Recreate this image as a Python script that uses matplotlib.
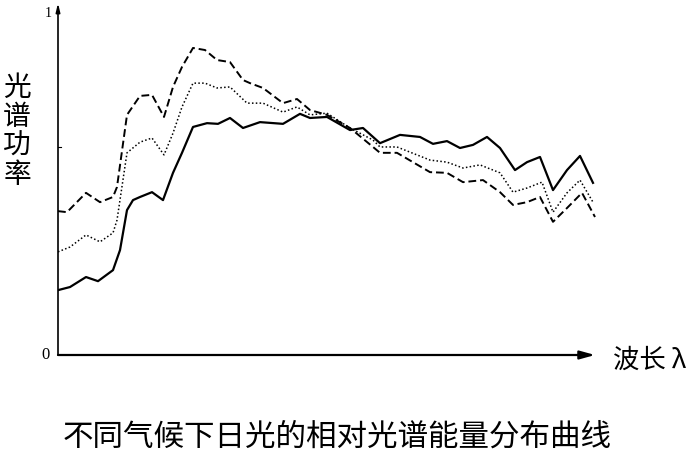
import matplotlib.pyplot as plt

plt.rcParams['font.family'] = ['Noto Sans CJK SC', 'DejaVu Sans']

# relative wavelength (arbitrary units) and relative spectral power
wl_dash = [0, 9, 28, 42, 55, 59, 69, 82, 94, 106, 115, 124, 135, 147, 159, 172,
           185, 192, 205, 225, 239, 252, 269, 292, 315, 322, 339, 372, 389, 405,
           425, 442, 455, 469, 482, 495, 509, 524, 537]
p_dash = [0.417, 0.414, 0.470, 0.443, 0.458, 0.487, 0.696, 0.751, 0.754, 0.690,
          0.777, 0.835, 0.890, 0.884, 0.855, 0.849, 0.797, 0.788, 0.774, 0.730,
          0.742, 0.710, 0.696, 0.658, 0.603, 0.586, 0.586, 0.530, 0.528, 0.501,
          0.507, 0.472, 0.435, 0.443, 0.458, 0.386, 0.426, 0.470, 0.400]

wl_dot = [0, 12, 28, 42, 55, 59, 69, 82, 94, 106, 115, 124, 135, 147, 159, 172,
          189, 205, 225, 239, 252, 269, 292, 315, 322, 339, 372, 389, 405, 422,
          442, 455, 469, 484, 495, 509, 522, 535]
p_dot = [0.299, 0.313, 0.348, 0.328, 0.354, 0.391, 0.586, 0.617, 0.629, 0.580,
         0.643, 0.719, 0.788, 0.788, 0.774, 0.777, 0.730, 0.730, 0.704, 0.719,
         0.696, 0.701, 0.658, 0.623, 0.603, 0.603, 0.565, 0.559, 0.542, 0.551,
         0.528, 0.472, 0.484, 0.501, 0.414, 0.470, 0.507, 0.443]

wl_solid = [0, 12, 28, 40, 55, 62, 69, 75, 82, 94, 105, 115, 124, 135, 149, 160,
            172, 185, 202, 225, 242, 252, 269, 292, 305, 322, 342, 362, 375, 389,
            402, 415, 429, 442, 457, 469, 482, 495, 509, 522, 535]
p_solid = [0.188, 0.197, 0.226, 0.214, 0.246, 0.304, 0.420, 0.449, 0.458, 0.472,
           0.449, 0.528, 0.586, 0.661, 0.672, 0.670, 0.687, 0.658, 0.675, 0.670,
           0.699, 0.687, 0.690, 0.652, 0.658, 0.614, 0.638, 0.632, 0.612, 0.620,
           0.600, 0.609, 0.632, 0.600, 0.536, 0.559, 0.574, 0.478, 0.536, 0.577,
           0.499]

fig = plt.figure(figsize=(7, 4.58), dpi=100)
ax = fig.add_axes([58 / 700, 103 / 458, 542 / 700, 355.35 / 458])
ax.set_xlim(0, 542)
ax.set_ylim(0, 1.03)
ax.axis('off')

ax.plot(wl_dash, p_dash, color='black', lw=1.4, ls=(0, (4, 2)),
        solid_joinstyle='round', dash_joinstyle='round')
ax.plot(wl_dot, p_dot, color='black', lw=1.1, ls=(0, (1, 1.5)),
        dash_joinstyle='round')
ax.plot(wl_solid, p_solid, color='black', lw=1.6, solid_joinstyle='round')

# axes with arrows
ax.annotate('', xy=(537, 0), xytext=(0, 0), annotation_clip=False,
            arrowprops=dict(arrowstyle='-|>,head_length=0.9,head_width=0.25',
                            color='black', lw=1.6, shrinkA=0, shrinkB=0))
ax.annotate('', xy=(0, 1.02), xytext=(0, 0), annotation_clip=False,
            arrowprops=dict(arrowstyle='-|>,head_length=0.5,head_width=0.12',
                            color='black', lw=1.2, shrinkA=0, shrinkB=0))
ax.plot([0, 3], [0.603, 0.603], color='black', lw=0.8, clip_on=False)

ax.text(-8, 0, '0', ha='right', va='center', fontsize=12,
        family='Liberation Serif', clip_on=False)
ax.text(-6, 0.99, '1', ha='right', va='center', fontsize=10,
        family='Liberation Serif', clip_on=False)

for i, ch in enumerate('光谱功率'):
    fig.text(17 / 700, 1 - (88 + 29 * i) / 458, ch, ha='center', va='center',
             fontsize=20, fontweight='light')

fig.text(650 / 700, 1 - 360 / 458, '波长 λ', ha='center', va='center',
         fontsize=19, fontweight='light')
fig.text(337 / 700, 1 - 437 / 458, '不同气候下日光的相对光谱能量分布曲线',
         ha='center', va='center', fontsize=22, fontweight='light')

fig.savefig('out.png', dpi=100)
